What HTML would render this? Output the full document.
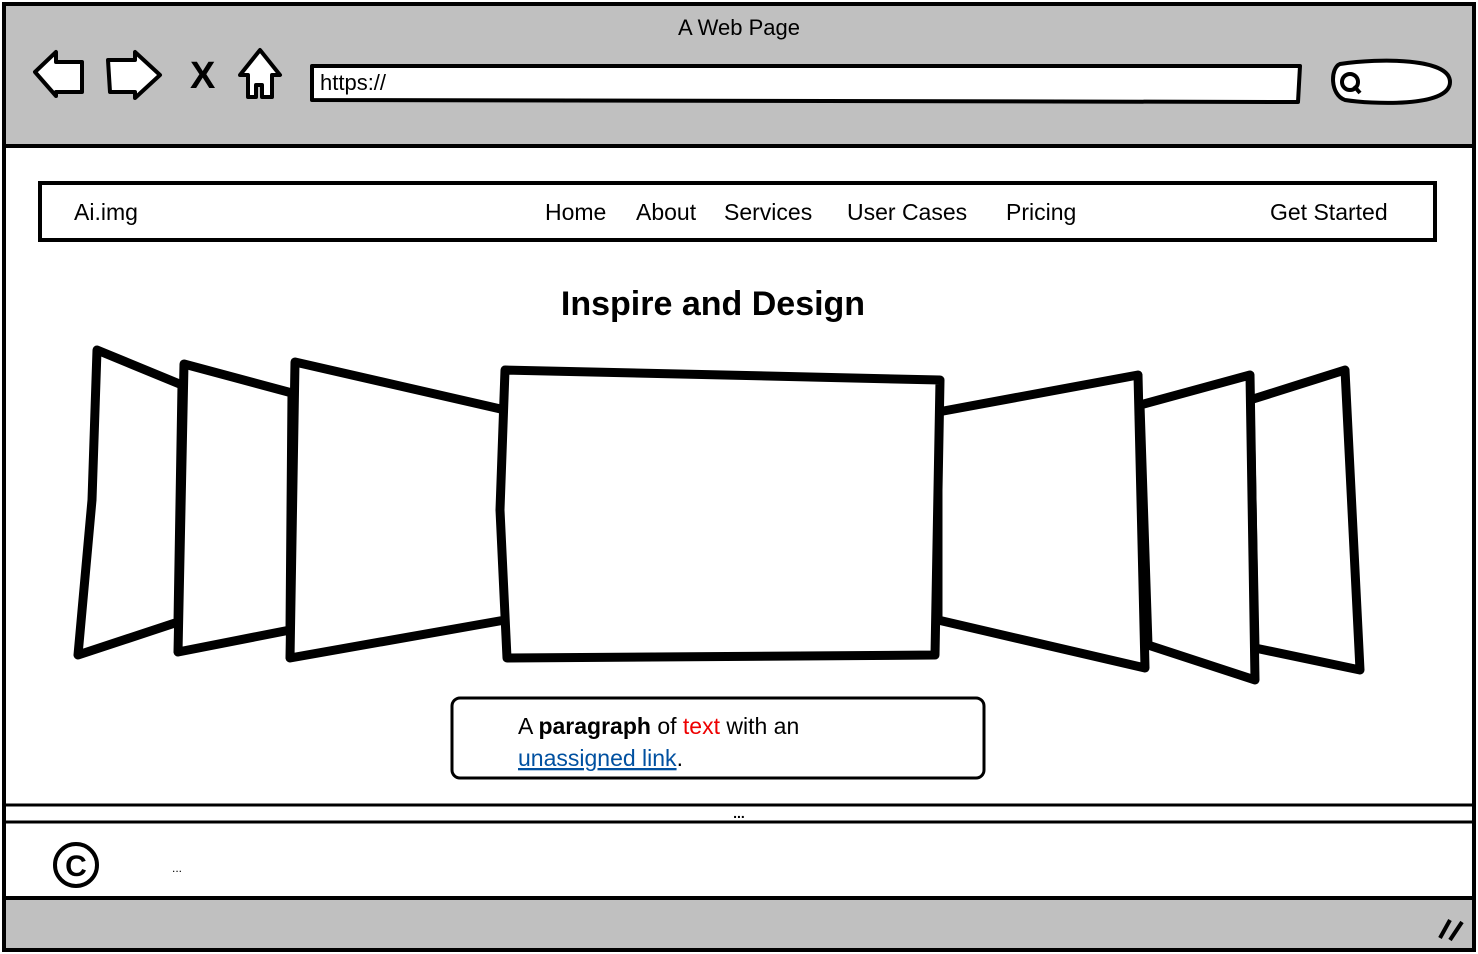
<!DOCTYPE html>
<html><head><style>body{margin:0;background:#fff}svg{display:block}text{font-family:"Liberation Sans",sans-serif}</style></head><body>
<svg width="1478" height="954" viewBox="0 0 1478 954" xmlns="http://www.w3.org/2000/svg">
<rect x="4" y="4" width="1470" height="142" fill="#c0c0c0"/>
<rect x="4" y="898" width="1470" height="52" fill="#c0c0c0"/>
<rect x="4" y="4" width="1470" height="946" fill="none" stroke="#000" stroke-width="4"/>
<line x1="4" y1="146" x2="1474" y2="146" stroke="#000" stroke-width="4"/>
<line x1="4" y1="898" x2="1474" y2="898" stroke="#000" stroke-width="4"/>
<line x1="4" y1="805" x2="1474" y2="805" stroke="#000" stroke-width="3"/>
<line x1="4" y1="822" x2="1474" y2="822" stroke="#000" stroke-width="3"/>
<text x="739" y="35" font-size="22" text-anchor="middle">A Web Page</text>
<g fill="#fff" stroke="#000" stroke-width="4" stroke-linejoin="round">
<path d="M35,72 L56,52 L56,62 L82,62 L82,92 L56,92 L56,96 Z"/>
<path d="M160,75 L135,52 L135,60 L108,60 L110,92 L135,92 L135,98 Z"/>
<path d="M240,75 L260,50 L280,75 L272,75 L272,97 L262,97 L262,85 L256,85 L256,97 L248,97 L248,75 Z"/>
<path d="M312,66 L1300,66 L1298,102 L312,100 Z"/>
<path d="M1340,64 C1380,58 1450,58 1450,82 C1450,108 1370,104 1345,100 C1330,95 1330,68 1340,64 Z"/>
</g>
<text x="190" y="88" font-size="38" font-weight="bold">X</text>
<circle cx="1350" cy="82" r="8" fill="none" stroke="#000" stroke-width="4"/>
<line x1="1354" y1="86" x2="1360" y2="93" stroke="#000" stroke-width="4"/>
<text x="320" y="90" font-size="22">https://</text>
<rect x="40" y="183" width="1395" height="57" fill="none" stroke="#000" stroke-width="4"/>
<g font-size="23"><text x="74" y="220">Ai.img</text><text x="545" y="220">Home</text><text x="636" y="220">About</text><text x="724" y="220">Services</text><text x="847" y="220">User Cases</text><text x="1006" y="220">Pricing</text><text x="1270" y="220">Get Started</text></g>
<text x="713" y="315" font-size="34" font-weight="bold" text-anchor="middle">Inspire and Design</text>
<g fill="#fff" stroke="#000" stroke-width="9" stroke-linejoin="round">
<path d="M97,350 L182,385 L178,622 L78,655 L92,500 Z"/>
<path d="M184,364 L292,393 L290,630 L178,652 Z"/>
<path d="M295,362 L505,410 L505,620 L290,658 Z"/>
<path d="M1250,400 L1345,370 L1360,670 L1255,648 Z"/>
<path d="M1140,405 L1250,375 L1255,680 L1148,645 Z"/>
<path d="M938,412 L1138,375 L1145,668 L938,620 Z"/>
<path d="M505,370 L940,380 L935,655 L507,658 L500,510 Z"/>
</g>
<rect x="452" y="698" width="532" height="80" rx="8" fill="none" stroke="#000" stroke-width="3"/>
<text x="518" y="734" font-size="23">A <tspan font-weight="bold">paragraph</tspan> of <tspan fill="#e00">text</tspan> with an</text>
<text x="518" y="766" font-size="23"><tspan fill="#0050a0" text-decoration="underline">unassigned link</tspan>.</text>
<text x="739" y="818" font-size="14" text-anchor="middle" font-weight="bold">...</text>
<circle cx="76" cy="865" r="21" fill="none" stroke="#000" stroke-width="4"/>
<text x="76" y="876" font-size="30" font-weight="bold" text-anchor="middle">C</text>
<text x="172" y="872" font-size="12">...</text>
<path d="M1440,938 L1450,920 M1450,940 L1462,922" stroke="#000" stroke-width="4"/>
</svg>
</body></html>
